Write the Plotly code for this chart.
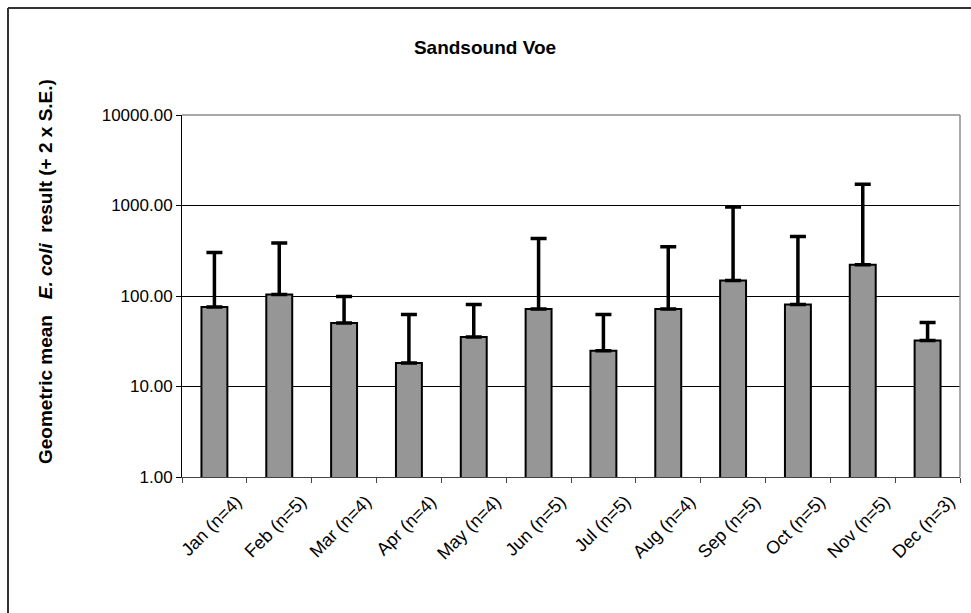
import plotly.graph_objects as go

months = ["Jan (n=4)", "Feb (n=5)", "Mar (n=4)", "Apr (n=4)", "May (n=4)", "Jun (n=5)",
          "Jul (n=5)", "Aug (n=4)", "Sep (n=5)", "Oct (n=5)", "Nov (n=5)", "Dec (n=3)"]
geo_mean = [75.6, 103.6, 50.3, 18.2, 35.2, 71.8, 24.9, 71.8, 148.0, 80.4, 222.0, 32.2]
upper_2se = [302.0, 385.0, 98.5, 62.3, 80.4, 431.0, 62.3, 351.0, 962.0, 453.0, 1715.0, 50.8]
ytick_vals = [1, 10, 100, 1000, 10000]
ytick_text = ["1.00", "10.00", "100.00", "1000.00", "10000.00"]

err_plus = [u - g for u, g in zip(upper_2se, geo_mean)]

W, H = 971, 613
L, R, T, B = 182, 11, 115, 136
pw, ph = W - L - R, H - T - B

fig = go.Figure()
fig.add_trace(go.Bar(
    x=months, y=geo_mean,
    marker=dict(color="#969696", line=dict(color="black", width=2)),
    error_y=dict(type="data", symmetric=False, array=err_plus,
                 arrayminus=[0] * len(err_plus),
                 color="black", thickness=3.5, width=8),
    showlegend=False,
))

font = "Liberation Sans, Arial, sans-serif"

fig.update_layout(
    width=W, height=H,
    margin=dict(l=L, r=R, t=T, b=B),
    paper_bgcolor="white", plot_bgcolor="white",
    bargap=0.6,
    font=dict(family=font, size=17, color="black"),
    title=dict(text="<b>Sandsound Voe</b>", x=485 / W, xanchor="center",
               y=1 - 47 / H, yanchor="middle",
               font=dict(family=font, size=19, color="black")),
    xaxis=dict(
        type="category", tickangle=-45, ticks="outside", tickson="boundaries",
        ticklen=5, tickcolor="#444", showline=True, linecolor="#444", linewidth=1,
        showgrid=False, tickfont=dict(family=font, size=18, color="black"),
        ticklabelshift=22, ticklabelstandoff=6,
    ),
    yaxis=dict(
        type="log", range=[0, 4], tickvals=ytick_vals, ticktext=ytick_text,
        ticks="outside", ticklen=5, tickcolor="black", showline=True,
        linecolor="black", linewidth=1, showgrid=True, gridcolor="black",
        gridwidth=1, zeroline=False,
        tickfont=dict(family=font, size=17, color="black"),
    ),
    shapes=[
        dict(type="line", xref="paper", yref="paper", x0=0, x1=1, y0=1, y1=1,
             line=dict(color="#8c8c8c", width=1.5), layer="above"),
        dict(type="line", xref="paper", yref="paper", x0=1, x1=1, y0=0, y1=1,
             line=dict(color="#8c8c8c", width=1.5), layer="above"),
        dict(type="line", xref="paper", yref="paper",
             x0=(8 - L) / pw, x1=(W - L) / pw,
             y0=1 + (T - 8) / ph, y1=1 + (T - 8) / ph,
             line=dict(color="#333333", width=2)),
        dict(type="line", xref="paper", yref="paper",
             x0=(8 - L) / pw, x1=(8 - L) / pw,
             y0=1 + (T - 8) / ph, y1=-(B) / ph,
             line=dict(color="#333333", width=2)),
    ],
    annotations=[
        dict(text="<b>Geometric mean   <i>E. coli</i>  result (+ 2 x S.E.)</b>",
             xref="paper", yref="paper",
             x=(45 - L) / pw, y=1 - (272 - T) / ph,
             xanchor="center", yanchor="middle", textangle=-90, showarrow=False,
             font=dict(family=font, size=19, color="black")),
    ],
)

fig.write_html("out.html")
